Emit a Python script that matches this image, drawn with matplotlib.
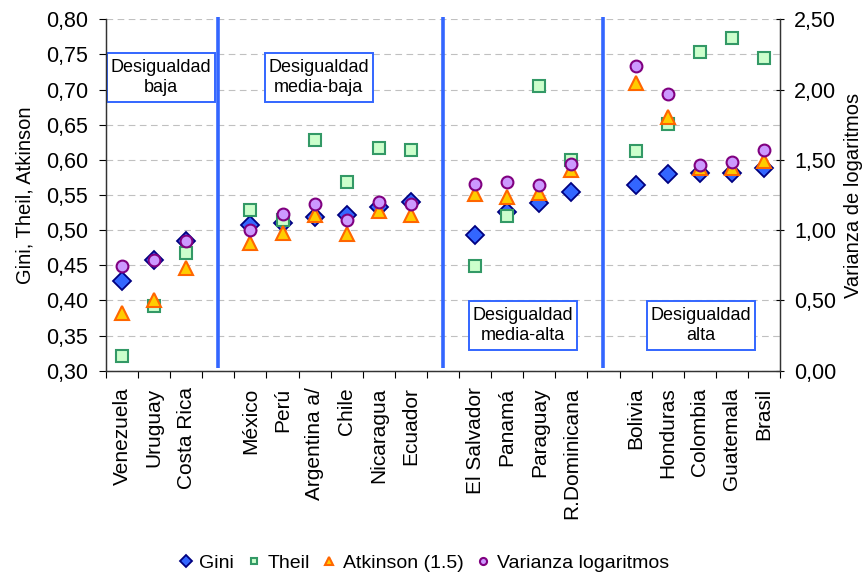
import numpy as np
import matplotlib
matplotlib.use("Agg")
import matplotlib.pyplot as plt
from matplotlib.patches import Rectangle

plt.rcParams['font.family'] = ['Liberation Sans', 'DejaVu Sans']

# categories (empty strings are the gaps between groups)
paises = ['Venezuela', 'Uruguay', 'Costa Rica', '',
          'México', 'Perú', 'Argentina a/', 'Chile', 'Nicaragua', 'Ecuador', '',
          'El Salvador', 'Panamá', 'Paraguay', 'R.Dominicana', '',
          'Bolivia', 'Honduras', 'Colombia', 'Guatemala', 'Brasil']
nan = np.nan
gini = [0.428, 0.457, 0.485, nan,
        0.507, 0.510, 0.518, 0.522, 0.533, 0.540, nan,
        0.493, 0.526, 0.538, 0.554, nan,
        0.564, 0.580, 0.582, 0.582, 0.588]
theil = [0.321, 0.392, 0.467, nan,
         0.529, 0.514, 0.628, 0.568, 0.617, 0.614, nan,
         0.449, 0.520, 0.705, 0.600, nan,
         0.612, 0.651, 0.754, 0.773, 0.745]
atkinson = [0.382, 0.401, 0.446, nan,
            0.481, 0.496, 0.521, 0.495, 0.527, 0.521, nan,
            0.551, 0.547, 0.553, 0.585, nan,
            0.709, 0.661, 0.588, 0.588, 0.599]
varianza = [0.745, 0.79, 0.925, nan,
            1.00, 1.115, 1.185, 1.07, 1.20, 1.185, nan,
            1.33, 1.345, 1.32, 1.47, nan,
            2.17, 1.965, 1.465, 1.485, 1.57]
grupos = ['Desigualdad\nbaja', 'Desigualdad\nmedia-baja',
          'Desigualdad\nmedia-alta', 'Desigualdad\nalta']

x = np.arange(len(paises))
azul = '#3366FF'

fig = plt.figure(figsize=(8.64, 5.77), dpi=100)
ax = fig.add_axes([0.1227, 0.3575, 0.7801, 0.6091])
ax2 = ax.twinx()

ax.plot(x, gini, 'D', ms=9.5, mfc='#3366FF', mec='#000080', mew=1.3, label='Gini', zorder=3)
ax.plot(x, theil, 's', ms=8, mfc='#CCFFCC', mec='#339966', mew=1.5, label='Theil', zorder=4)
ax.plot(x, atkinson, '^', ms=10, mfc='#FFCC00', mec='#FF6600', mew=1.5, label='Atkinson (1.5)', zorder=5)
ax2.plot(x, varianza, 'o', ms=8.5, mfc='#CC99FF', mec='#800080', mew=1.5, label='Varianza logaritmos', zorder=6)

ax.set_xlim(-0.5, len(paises) - 0.5)
ax.set_ylim(0.30, 0.80)
ax2.set_ylim(0, 2.5)

yt = np.arange(0.30, 0.801, 0.05)
ax.set_yticks(yt)
ax.set_yticklabels([f'{v:.2f}'.replace('.', ',') for v in yt])
yt2 = np.arange(0, 2.51, 0.5)
ax2.set_yticks(yt2)
ax2.set_yticklabels([f'{v:.2f}'.replace('.', ',') for v in yt2])

ax.set_xticks(x)
ax.set_xticklabels(paises, rotation=90, va='top', ha='center')
ax.set_xticks(np.arange(-0.5, len(paises)), minor=True)
ax.tick_params(axis='x', which='major', length=0, pad=12, labelsize=15)
ax.tick_params(axis='x', which='minor', length=5, direction='out', width=0.8)
ax.tick_params(axis='y', length=5, width=0.8, labelsize=15.5, pad=8)
ax2.tick_params(axis='y', length=6, width=0.8, direction='inout', labelsize=15.5, pad=7)

ax.yaxis.grid(True, color='#c0c0c0', linestyle=(0, (6, 4)), linewidth=0.8)
ax.set_axisbelow(True)

for a in (ax, ax2):
    a.spines['top'].set_visible(False)
    for s in ('left', 'right', 'bottom'):
        a.spines[s].set_color('#333333')
        a.spines[s].set_linewidth(0.9)

ax.set_ylabel('Gini, Theil, Atkinson', fontsize=14.5, labelpad=8)
ax2.set_ylabel('Varianza de logaritmos', fontsize=14.5, labelpad=6)

# group separators
for xs in (3, 10, 15):
    ax.vlines(xs, 0.304, 0.803, color=azul, lw=2.6, zorder=2, clip_on=False)

# group boxes
cajas = [(-0.47, 0.682), (4.45, 0.682), (10.81, 0.329), (16.35, 0.329)]
for (bx, by), txt in zip(cajas, grupos):
    ax.add_patch(Rectangle((bx, by), 3.36, 0.070, facecolor='white',
                           edgecolor=azul, lw=1.4, zorder=2.5))
    ax.text(bx + 1.68, by + 0.035, txt, ha='center', va='center',
            fontsize=13, linespacing=1.25, zorder=2.6)

h1, l1 = ax.get_legend_handles_labels()
h2, l2 = ax2.get_legend_handles_labels()
fig.legend(h1 + h2, l1 + l2, loc='center', bbox_to_anchor=(0.49, 0.024),
           ncol=4, frameon=False, fontsize=14, markerscale=0.6,
           handlelength=0.8, handletextpad=0.3, columnspacing=0.6)

fig.savefig('out.png', dpi=100)
